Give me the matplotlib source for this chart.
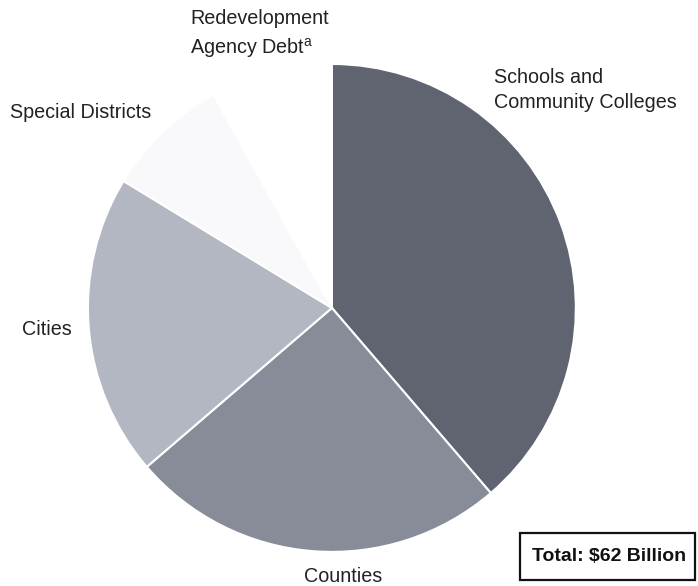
import matplotlib.pyplot as plt
from matplotlib.patches import Rectangle

# Deuda local por tipo de gobierno (miles de millones de dólares)
categorias = ['Schools and\nCommunity Colleges', 'Counties', 'Cities',
              'Special Districts', 'Redevelopment\nAgency Debt$^\\mathregular{a}$']
valores = [24.0, 15.5, 12.4, 5.1, 5.0]
cores = ['#5f6470', '#878c98', '#b3b7c2', '#f9f9fb', '#ffffff']
total_txt = 'Total: $62 Billion'

plt.rcParams['font.family'] = ['Liberation Sans', 'DejaVu Sans']

fig = plt.figure(figsize=(6.98, 5.86), dpi=100)
ax = fig.add_axes([0.126, 0.058, 0.699, 0.833])

ax.pie(valores, colors=cores, startangle=90, counterclock=False,
       wedgeprops=dict(edgecolor='white', linewidth=1.5))
ax.set_xlim(-1, 1)
ax.set_ylim(-1, 1)
ax.set_aspect('equal')

# Rótulos posicionados em coordenadas do pie
cor_txt = '#222222'
fs = 14.2
ax.text(0.664, 0.895, categorias[0], ha='left', va='center', fontsize=fs,
        color=cor_txt, linespacing=1.4)
ax.text(0.045, -1.10, categorias[1], ha='center', va='center', fontsize=fs,
        color=cor_txt)
ax.text(-1.27, -0.09, categorias[2], ha='left', va='center', fontsize=fs,
        color=cor_txt)
ax.text(-1.32, 0.80, categorias[3], ha='left', va='center', fontsize=fs,
        color=cor_txt)
ax.text(-0.582, 1.12, categorias[4], ha='left', va='center', fontsize=fs,
        color=cor_txt, linespacing=1.45)

# Caixa do total
fig.patches.append(Rectangle((0.745, 0.0102), 0.251, 0.080,
                             transform=fig.transFigure, facecolor='white',
                             edgecolor='#111111', linewidth=1.6))
fig.text(0.762, 0.0503, total_txt, ha='left', va='center', fontsize=14,
         fontweight='bold', color='#111111')

fig.savefig('out.png', dpi=100)
